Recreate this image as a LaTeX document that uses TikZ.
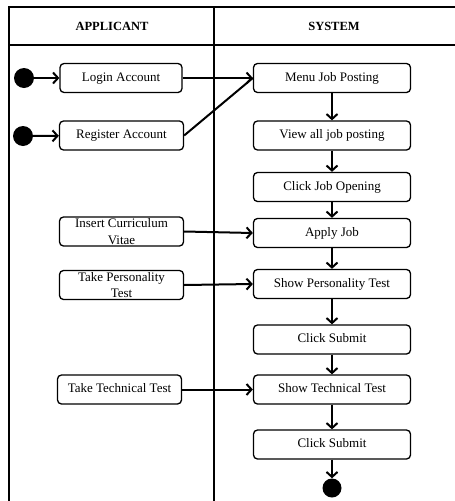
\documentclass[tikz,border=0pt]{standalone}
\usepackage{fontspec}
\setmainfont{Liberation Serif}
\usetikzlibrary{arrows.meta}
\tikzset{
  act/.style={draw, line width=1.3pt, rounded corners=4pt, minimum height=29pt,
    inner sep=1pt, font=\fontsize{13}{15}\selectfont, align=center},
  oneline/.style={text height=9pt, text depth=2.5pt},
  sysact/.style={act, oneline, minimum width=157pt},
  usract/.style={act, minimum width=124pt},
  startdot/.style={circle, fill=black, minimum size=20pt, inner sep=0pt},
  flow/.style={line width=2pt, -{Straight Barb[length=5pt,width=11pt,line width=2pt]}},
  lane/.style={line width=1.6pt},
  lanehead/.style={font=\fontsize{12.5}{15}\selectfont\bfseries}
}
\begin{document}
\begin{tikzpicture}[x=1pt,y=-1pt]
\useasboundingbox (0,0) rectangle (455,501);
% swimlane frame
\draw[lane] (455,7) -- (9,7) -- (9,501);
\draw[lane] (9,45) -- (455,45);
\draw[lane] (214,7) -- (214,501);
\node[lanehead] (hA) at (112,26) {APPLICANT};
\node[lanehead] (hS) at (334,26) {SYSTEM};

% applicant lane
\node[startdot] (s1) at (24,78) {};
\node[startdot] (s2) at (23,136) {};
\node[usract, oneline, minimum width=122pt] (login) at (121,78) {Login Account};
\node[usract, oneline] (register) at (121.5,135.5) {Register Account};
\node[usract, font=\fontsize{13}{16.5}\selectfont] (cv) at (121.5,231.5) {Insert Curriculum\\Vitae};
\node[usract, font=\fontsize{13}{16.5}\selectfont] (pt) at (121.5,285) {Take Personality\\Test};
\node[usract, oneline] (tt) at (119.5,389.5) {Take Technical Test};

% system lane
\node[sysact] (menu) at (332,78) {Menu Job Posting};
\node[sysact] (view) at (332,135.5) {View all job posting};
\node[sysact] (open) at (332,187) {Click Job Opening};
\node[sysact] (apply) at (332,233) {Apply Job};
\node[sysact] (spt) at (332,284) {Show Personality Test};
\node[sysact] (sub1) at (332,339.5) {Click Submit};
\node[sysact] (stt) at (332,389.5) {Show Technical Test};
\node[sysact] (sub2) at (332,444.5) {Click Submit};
\node[startdot, minimum size=19pt] (fin) at (332,488) {};

% flows
\draw[flow] (s1) -- (login);
\draw[flow] (s2) -- (register);
\draw[flow] (login) -- (menu.west);
\draw[line width=2pt] (register.east) -- (menu.west);
\draw[flow] (menu) -- (view);
\draw[flow] (view) -- (open);
\draw[flow] (open) -- (apply);
\draw[flow] (apply) -- (spt);
\draw[flow] (spt) -- (sub1);
\draw[flow] (sub1) -- (stt);
\draw[flow] (stt) -- (sub2);
\draw[flow] (sub2) -- (fin);
\draw[flow] (cv.east) -- (apply.west);
\draw[flow] (pt.east) -- (spt.west);
\draw[flow] (tt) -- (stt);
\end{tikzpicture}
\end{document}
